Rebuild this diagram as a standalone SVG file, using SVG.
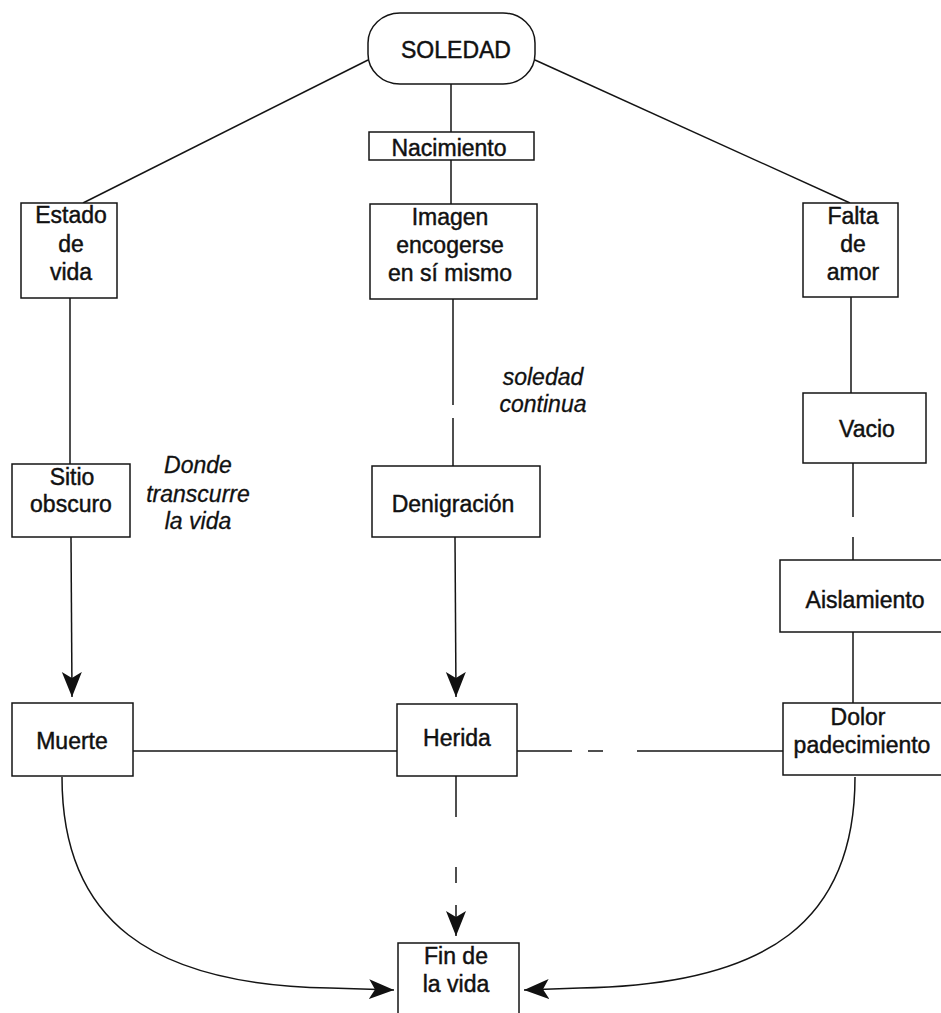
<svg xmlns="http://www.w3.org/2000/svg" width="941" height="1013" viewBox="0 0 941 1013">
  <style>
    .box { fill: #ffffff; stroke: #141414; stroke-width: 1.5; }
    .lbl { font-family: "Liberation Sans", Arial, sans-serif; font-size: 23px; fill: #111111; stroke: #111111; stroke-width: 0.45; text-anchor: middle; }
    .note { font-family: "Liberation Sans", Arial, sans-serif; font-size: 23px; font-style: italic; fill: #111111; stroke: #111111; stroke-width: 0.3; text-anchor: middle; }
    .wire { fill: none; stroke: #141414; stroke-width: 1.5; }
    .arrow { marker-end: url(#head); }
  </style>
  <defs>
    <marker id="head" markerUnits="userSpaceOnUse" markerWidth="26" markerHeight="22" viewBox="0 0 26 22" refX="25" refY="11" orient="auto">
      <path d="M0,1 L25,11 L0,21 L6,11 Z" fill="#111111"/>
    </marker>
  </defs>
  <rect width="941" height="1013" fill="#ffffff"/>

  <!-- connectors -->
  <g id="connectors">
    <line class="wire" x1="368" y1="60" x2="83" y2="203"/>
    <line class="wire" x1="535" y1="60" x2="850" y2="203"/>
    <line class="wire" x1="451" y1="84" x2="451" y2="132"/>
    <line class="wire" x1="451" y1="160" x2="451" y2="204"/>
    <!-- centre column -->
    <line class="wire" x1="453" y1="299" x2="453" y2="405"/>
    <line class="wire" x1="453" y1="418" x2="453" y2="466"/>
    <line class="wire arrow" x1="455" y1="537" x2="456" y2="697"/>
    <line class="wire" x1="456" y1="776" x2="456" y2="817"/>
    <line class="wire" x1="456" y1="867" x2="456" y2="883"/>
    <line class="wire arrow" x1="456" y1="905" x2="456" y2="936"/>
    <!-- left column -->
    <line class="wire" x1="70" y1="298" x2="70" y2="464"/>
    <line class="wire arrow" x1="71" y1="537" x2="72" y2="697"/>
    <!-- right column -->
    <line class="wire" x1="851" y1="297" x2="851" y2="393"/>
    <line class="wire" x1="853" y1="463" x2="853" y2="517"/>
    <line class="wire" x1="853" y1="537" x2="853" y2="560"/>
    <line class="wire" x1="853" y1="632" x2="853" y2="703"/>
    <!-- bottom row -->
    <line class="wire" x1="133" y1="751" x2="397" y2="751"/>
    <line class="wire" x1="517" y1="751" x2="572" y2="751"/>
    <line class="wire" x1="588" y1="751" x2="603" y2="751"/>
    <line class="wire" x1="637" y1="751" x2="783" y2="751"/>
    <!-- sweeps into the final node -->
    <path class="wire arrow" d="M62,777 C62,920 150,985 330,988 L394,990"/>
    <path class="wire arrow" d="M855,777 C855,920 770,985 580,988 L524,990"/>
  </g>

  <g id="soledad">
    <rect class="box" x="368" y="13" width="167" height="71" rx="32" ry="30"/>
    <text class="lbl" x="456" y="58" font-size="24">SOLEDAD</text>
  </g>

  <g id="nacimiento">
    <rect class="box" x="369" y="132" width="165" height="28"/>
    <text class="lbl" x="449" y="156" font-size="22">Nacimiento</text>
  </g>

  <g id="estado-de-vida">
    <rect class="box" x="21" y="203" width="96" height="95"/>
    <text class="lbl" x="71" y="223">Estado</text>
    <text class="lbl" x="71" y="252">de</text>
    <text class="lbl" x="71" y="280">vida</text>
  </g>

  <g id="imagen">
    <rect class="box" x="370" y="204" width="167" height="95"/>
    <text class="lbl" x="450" y="225">Imagen</text>
    <text class="lbl" x="450" y="253">encogerse</text>
    <text class="lbl" x="450" y="281">en sí mismo</text>
  </g>

  <g id="falta-de-amor">
    <rect class="box" x="803" y="203" width="95" height="94"/>
    <text class="lbl" x="853" y="224">Falta</text>
    <text class="lbl" x="853" y="252">de</text>
    <text class="lbl" x="853" y="280">amor</text>
  </g>

  <g id="vacio">
    <rect class="box" x="803" y="393" width="123" height="70"/>
    <text class="lbl" x="867" y="437">Vacio</text>
  </g>

  <g id="sitio-obscuro">
    <rect class="box" x="12" y="464" width="118" height="73"/>
    <text class="lbl" x="72" y="485">Sitio</text>
    <text class="lbl" x="71" y="512">obscuro</text>
  </g>

  <g id="nota-donde">
    <text class="note" x="198" y="473">Donde</text>
    <text class="note" x="198" y="502">transcurre</text>
    <text class="note" x="198" y="529">la vida</text>
  </g>

  <g id="denigracion">
    <rect class="box" x="372" y="466" width="168" height="71"/>
    <text class="lbl" x="453" y="512">Denigración</text>
  </g>

  <g id="nota-soledad">
    <text class="note" x="543" y="385">soledad</text>
    <text class="note" x="543" y="412">continua</text>
  </g>

  <g id="aislamiento">
    <rect class="box" x="780" y="560" width="175" height="72"/>
    <text class="lbl" x="865" y="608" font-size="24">Aislamiento</text>
  </g>

  <g id="muerte">
    <rect class="box" x="12" y="703" width="121" height="73"/>
    <text class="lbl" x="72" y="749">Muerte</text>
  </g>

  <g id="herida">
    <rect class="box" x="397" y="704" width="120" height="72"/>
    <text class="lbl" x="457" y="746">Herida</text>
  </g>

  <g id="dolor">
    <rect class="box" x="783" y="703" width="172" height="72"/>
    <text class="lbl" x="858" y="725" font-size="24">Dolor</text>
    <text class="lbl" x="862" y="753" font-size="25">padecimiento</text>
  </g>

  <g id="fin-de-la-vida">
    <rect class="box" x="398" y="943" width="121" height="80"/>
    <text class="lbl" x="456" y="964">Fin de</text>
    <text class="lbl" x="456" y="992">la vida</text>
  </g>
</svg>
